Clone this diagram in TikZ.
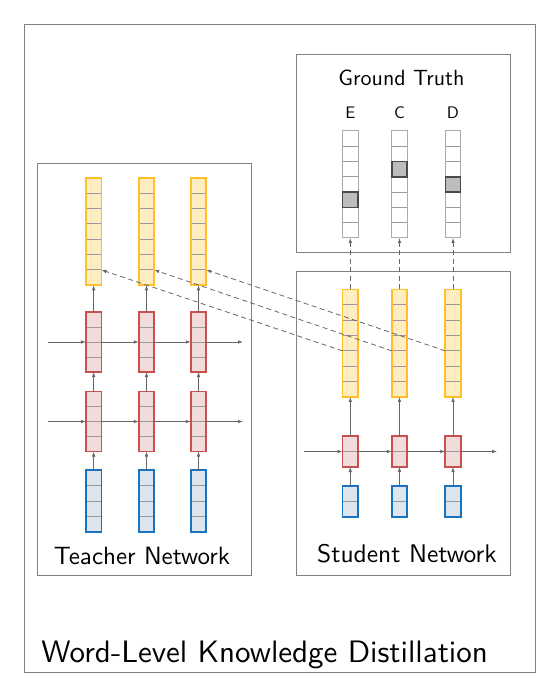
\documentclass[tikz,border=0pt]{standalone}
\usetikzlibrary{arrows.meta,calc}
\definecolor{ybord}{HTML}{FFBE2A}
\definecolor{yfill}{HTML}{FFEDC2}
\definecolor{rbord}{HTML}{C9504F}
\definecolor{rfill}{HTML}{F2DBDB}
\definecolor{bbord}{HTML}{1A73BF}
\definecolor{bfill}{HTML}{DDE5EF}
\definecolor{celllc}{HTML}{9A9A9A}
\definecolor{framec}{HTML}{808080}
\definecolor{arrc}{HTML}{666666}
\definecolor{gtbord}{HTML}{ABABAB}
\definecolor{hlfill}{HTML}{BDBDBD}
\definecolor{hlbord}{HTML}{4A4A4A}
\tikzset{
  cells/.style={path picture={
    \pgfmathtruncatemacro\nm{#1-1}
    \foreach \k in {1,...,\nm}{
      \draw[celllc,line width=1pt] ($(path picture bounding box.north west)!{\k/#1}!(path picture bounding box.south west)$) -- ($(path picture bounding box.north east)!{\k/#1}!(path picture bounding box.south east)$);
    }}},
  colbox/.style={rectangle, inner sep=0pt, outer sep=0pt, minimum width=15.5pt, line width=1.8pt},
  ycol/.style={colbox, draw=ybord, fill=yfill, minimum height=107.5pt, cells=7},
  gtcol/.style={colbox, draw=gtbord, fill=white, line width=1pt, minimum height=107pt, cells=7},
  rcolA/.style={colbox, draw=rbord, fill=rfill, minimum height=60pt, cells=4},
  bcolA/.style={colbox, draw=bbord, fill=bfill, minimum height=62pt, cells=4},
  rcolB/.style={colbox, draw=rbord, fill=rfill, minimum height=31pt, cells=2},
  bcolB/.style={colbox, draw=bbord, fill=bfill, minimum height=31pt, cells=2},
  hlcell/.style={rectangle, inner sep=0pt, outer sep=0pt, minimum width=15.3pt, minimum height=15.3pt, draw=hlbord, fill=hlfill, line width=1.6pt},
  frame/.style={draw=framec, line width=1pt},
  conn/.style={draw=arrc, line width=0.8pt, -{Latex[length=5pt,width=3.6pt]}},
  dconn/.style={draw=arrc, line width=0.8pt, dashed, dash pattern=on 5pt off 3.5pt, -{Latex[length=5pt,width=3.6pt]}},
  lbl/.style={inner sep=0pt, font=\sffamily\fontsize{10}{12}\selectfont},
}
\begin{document}
\begin{tikzpicture}[x=1pt,y=-1pt]
\useasboundingbox (0,0) rectangle (543,692);
% frames
\draw[frame] (24,25) rectangle (535,672);
\draw[frame] (37.5,163.5) rectangle (251.5,575);
\draw[frame] (296.5,55) rectangle (510.5,253);
\draw[frame] (296.5,271.5) rectangle (510.5,575);

% teacher columns
\foreach \i/\x in {1/93.7,2/146.5,3/198.5}{
  \node[ycol]  (t\i y) at (\x,231.5) {};
  \node[rcolA] (t\i r) at (\x,342) {};
  \node[rcolA] (t\i q) at (\x,421.5) {};
  \node[bcolA] (t\i b) at (\x,501) {};
}
% student and ground truth columns
\foreach \i/\x in {1/350.3,2/399.5,3/453}{
  \node[gtcol] (g\i) at (\x,184.5) {};
  \node[ycol]  (s\i y) at (\x,343.2) {};
  \node[rcolB] (s\i r) at (\x,451.5) {};
  \node[bcolB] (s\i b) at (\x,501.5) {};
}
% highlighted ground-truth cells
\node[hlcell] (hE) at ($(g1.north)!{4.5/7}!(g1.south)$) {};
\node[hlcell] (hC) at ($(g2.north)!{2.5/7}!(g2.south)$) {};
\node[hlcell] (hD) at ($(g3.north)!{3.5/7}!(g3.south)$) {};

% labels
\node[lbl, scale=2.2, anchor=base] (gtl) at (401.5,86) {Ground Truth};
\node[lbl, scale=1.67, anchor=base] (lE) at (350.3,118.3) {E};
\node[lbl, scale=1.67, anchor=base] (lC) at (399.5,118.3) {C};
\node[lbl, scale=1.67, anchor=base] (lD) at (453,118.3) {D};
\node[lbl, scale=2.5, anchor=base] (tl) at (142,564) {Teacher Network};
\node[lbl, scale=2.55, anchor=base] (sl) at (407,562.7) {Student Network};
\node[lbl, scale=3.1, anchor=base west] (wl) at (40.7,662) {Word-Level Knowledge Distillation};

% teacher vertical arrows
\foreach \i in {1,2,3}{
  \draw[conn] (t\i b) -- (t\i q);
  \draw[conn] (t\i q) -- (t\i r);
  \draw[conn] (t\i r) -- (t\i y);
}
% teacher horizontal arrows
\coordinate (ta0) at (48,342);
\coordinate (ta4) at (243,342);
\coordinate (tb0) at (48,421.5);
\coordinate (tb4) at (243,421.5);
\draw[conn] (ta0) -- (t1r.west);
\draw[conn] (t1r.east) -- (t2r.west);
\draw[conn] (t2r.east) -- (t3r.west);
\draw[conn] (t3r.east) -- (ta4);
\draw[conn] (tb0) -- (t1q.west);
\draw[conn] (t1q.east) -- (t2q.west);
\draw[conn] (t2q.east) -- (t3q.west);
\draw[conn] (t3q.east) -- (tb4);

% student arrows
\foreach \i in {1,2,3}{
  \draw[conn] (s\i b) -- (s\i r);
  \draw[conn] (s\i r) -- (s\i y);
  \draw[dconn] (s\i y) -- (g\i);
}
\coordinate (sa0) at (304,451.5);
\coordinate (sa4) at (497,451.5);
\draw[conn] (sa0) -- (s1r.west);
\draw[conn] (s1r.east) -- (s2r.west);
\draw[conn] (s2r.east) -- (s3r.west);
\draw[conn] (s3r.east) -- (sa4);

% distillation dashed arrows
\foreach \i in {1,2,3}{
  \draw[dconn] ($(s\i y.north west)!{4/7}!(s\i y.south west)$) -- ($(t\i y.north east)!{6/7}!(t\i y.south east)$);
}
\end{tikzpicture}
\end{document}
